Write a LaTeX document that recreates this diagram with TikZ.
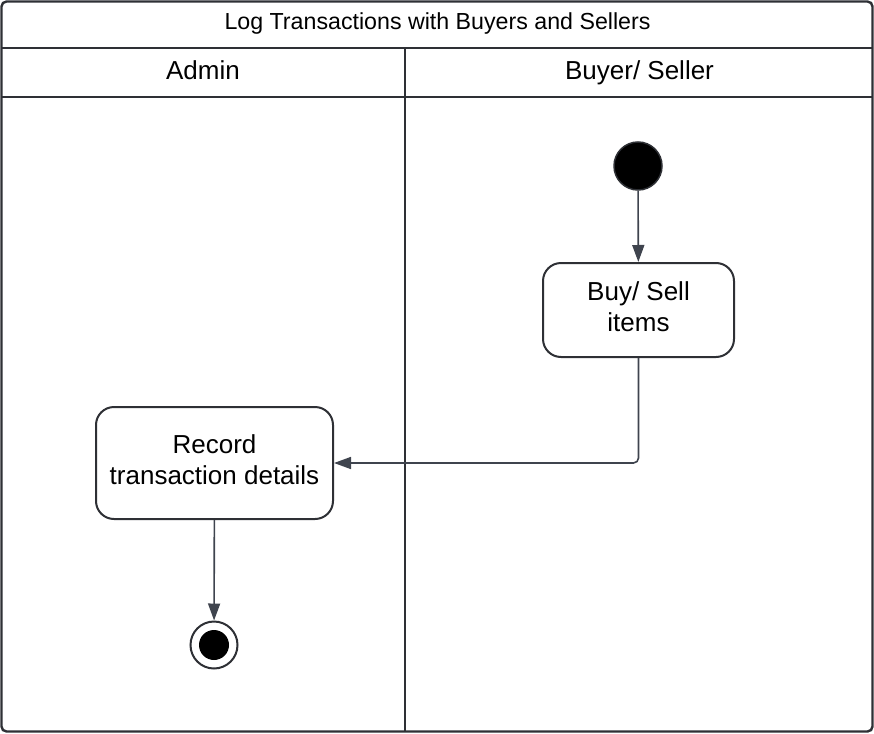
\documentclass[tikz,border=0pt]{standalone}
\usepackage{fontspec}
\setmainfont{Liberation Sans}
\usetikzlibrary{arrows.meta}
\definecolor{frame}{HTML}{2E3035}
\definecolor{conn}{HTML}{3F444E}
\newcommand{\acttext}[1]{\raisebox{2.5pt}{\begin{tabular}{@{}c@{}}#1\end{tabular}}}
\begin{document}
\begin{tikzpicture}[x=1pt,y=-1pt,
  act/.style={draw=frame,line width=2pt,rounded corners=18pt,fill=white,align=center,font=\fontsize{26}{31}\selectfont,inner sep=0pt},
  flow/.style={draw=conn,line width=1.6pt,-{Triangle[width=12pt,length=17pt]},rounded corners=5pt},
  lbl/.style={inner sep=0pt,anchor=base}]
\useasboundingbox (0,0) rectangle (874,733);
% frame
\draw[frame,line width=2.4pt,rounded corners=5pt] (1.5,1.5) rectangle (872.5,731.5);
\draw[frame,line width=2.4pt] (1.5,48) -- (872.5,48);
\draw[frame,line width=2.4pt] (1.5,97) -- (872.5,97);
\draw[frame,line width=2.8pt] (405,48) -- (405,731.5);
% labels
\node[lbl,font=\fontsize{23.2}{26}\selectfont] (title) at (437.5,30) {Log Transactions with Buyers and Sellers};
\node[lbl,font=\fontsize{26}{30}\selectfont] (admin) at (203,79.5) {Admin};
\node[lbl,font=\fontsize{26}{30}\selectfont] (bs) at (639.5,79.5) {Buyer/ Seller};
% nodes
\node[circle,fill=black,draw=frame,line width=1.5pt,minimum size=48pt,inner sep=0pt] (start) at (638,166) {};
\node[act,minimum width=191pt,minimum height=94pt] (buy) at (638.5,310) {\acttext{Buy/ Sell\\items}};
\node[act,minimum width=237pt,minimum height=112pt] (rec) at (214.5,463) {\acttext{Record\\transaction details}};
\node[circle,draw=frame,fill=white,line width=2pt,minimum size=47pt,inner sep=0pt] (end) at (214,645) {};
\node[circle,fill=black,minimum size=30pt,inner sep=0pt] (endin) at (214,645) {};
% connectors
\draw[flow] (start) -- (buy);
\draw[flow] (buy.south) |- (rec.east);
\draw[flow] (rec) -- (end);
\end{tikzpicture}
\end{document}
